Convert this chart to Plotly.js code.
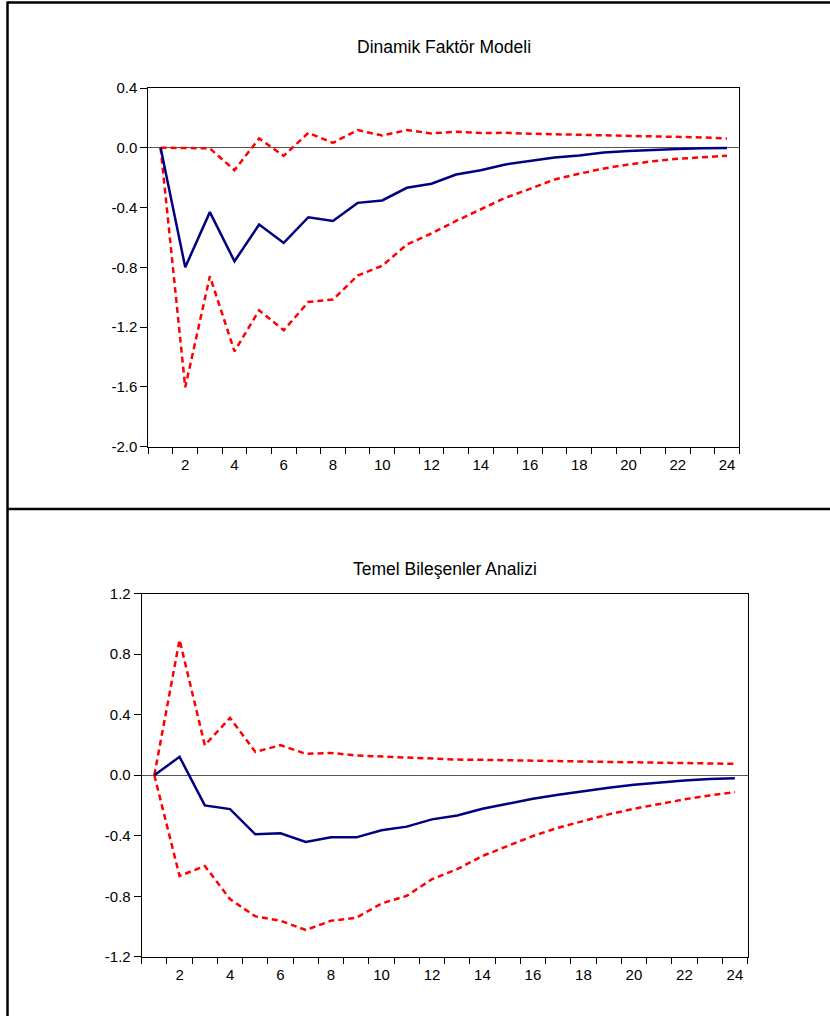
<!DOCTYPE html>
<html>
<head>
<meta charset="utf-8">
<script src="https://cdn.plot.ly/plotly-3.0.1.min.js"></script>
<style>html,body{margin:0;padding:0;background:#fff;}#chart{width:830px;height:1016px;}</style>
</head>
<body>
<div id="chart"></div>
<script>
// Horizon periods
const periods = [1,2,3,4,5,6,7,8,9,10,11,12,13,14,15,16,17,18,19,20,21,22,23,24];

// Panel titles
const titleTop = "Dinamik Faktör Modeli";
const titleBottom = "Temel Bileşenler Analizi";

// Dinamik Faktör Modeli: response and +/- 2 S.E. bands
const dfmResponse = [0, -0.80, -0.431, -0.76, -0.514, -0.637, -0.465, -0.49, -0.369, -0.353, -0.268, -0.241, -0.179, -0.150, -0.112, -0.090, -0.065, -0.052, -0.032, -0.022, -0.014, -0.008, -0.004, -0.002];
const dfmUpper = [0, -0.002, -0.004, -0.15, 0.062, -0.054, 0.10, 0.033, 0.118, 0.082, 0.118, 0.096, 0.107, 0.098, 0.10, 0.094, 0.091, 0.089, 0.085, 0.082, 0.078, 0.074, 0.069, 0.062];
const dfmLower = [0, -1.604, -0.860, -1.363, -1.088, -1.222, -1.032, -1.016, -0.856, -0.79, -0.648, -0.574, -0.49, -0.413, -0.335, -0.275, -0.212, -0.174, -0.139, -0.112, -0.090, -0.074, -0.063, -0.054];

// Temel Bileşenler Analizi: response and bands
const pcaResponse = [0, 0.121, -0.20, -0.224, -0.391, -0.384, -0.441, -0.411, -0.411, -0.364, -0.340, -0.292, -0.266, -0.222, -0.189, -0.156, -0.130, -0.105, -0.083, -0.063, -0.048, -0.035, -0.026, -0.020];
const pcaUpper = [0, 0.894, 0.198, 0.378, 0.154, 0.198, 0.141, 0.147, 0.130, 0.123, 0.117, 0.110, 0.103, 0.101, 0.097, 0.095, 0.093, 0.090, 0.088, 0.086, 0.084, 0.081, 0.079, 0.075];
const pcaLower = [0, -0.666, -0.60, -0.819, -0.933, -0.962, -1.023, -0.962, -0.942, -0.848, -0.797, -0.687, -0.621, -0.534, -0.468, -0.402, -0.347, -0.303, -0.259, -0.222, -0.189, -0.160, -0.134, -0.112];

// Tick labels
const xTickVals = [2,4,6,8,10,12,14,16,18,20,22,24];
const xTickText = ["2","4","6","8","10","12","14","16","18","20","22","24"];
const yTopVals = [-2.0,-1.6,-1.2,-0.8,-0.4,0.0,0.4];
const yTopText = ["-2.0","-1.6","-1.2","-0.8","-0.4","0.0","0.4"];
const yBotVals = [-1.2,-0.8,-0.4,0.0,0.4,0.8,1.2];
const yBotText = ["-1.2","-0.8","-0.4","0.0","0.4","0.8","1.2"];

const W = 830, H = 1016;
const px = v => v / W;
const py = v => 1 - v / H;

const FONT = "Liberation Sans, Arial, sans-serif";
const navy = "#000080", red = "#ff0000";
const solid = {color: navy, width: 2.5};
const dashed = {color: red, width: 2.5, dash: "6px,4px"};

const traces = [
  {x: periods, y: dfmUpper, xaxis: "x", yaxis: "y", mode: "lines", line: dashed},
  {x: periods, y: dfmLower, xaxis: "x", yaxis: "y", mode: "lines", line: dashed},
  {x: periods, y: dfmResponse, xaxis: "x", yaxis: "y", mode: "lines", line: solid},
  {x: periods, y: pcaUpper, xaxis: "x2", yaxis: "y2", mode: "lines", line: dashed},
  {x: periods, y: pcaLower, xaxis: "x2", yaxis: "y2", mode: "lines", line: dashed},
  {x: periods, y: pcaResponse, xaxis: "x2", yaxis: "y2", mode: "lines", line: solid}
];

function xAxis(domain, anchor) {
  return {
    domain: domain, anchor: anchor, range: [0.5, 24.5],
    tickmode: "array", tickvals: xTickVals, ticktext: xTickText,
    ticks: "", showgrid: false, zeroline: false,
    showline: true, linecolor: "#000", linewidth: 1, mirror: true,
    tickfont: {family: FONT, size: 15, color: "#000"},
    ticklabelstandoff: 4,
    minor: {tickmode: "linear", tick0: 0.5, dtick: 1, ticks: "outside", ticklen: 6, tickcolor: "#000", tickwidth: 1, showgrid: false}
  };
}
function yAxis(domain, anchor, range, vals, text) {
  return {
    domain: domain, anchor: anchor, range: range,
    tickmode: "array", tickvals: vals, ticktext: text,
    ticks: "outside", ticklen: 7, tickcolor: "#000", tickwidth: 1,
    showgrid: false, zeroline: true, zerolinecolor: "#555", zerolinewidth: 1,
    showline: true, linecolor: "#000", linewidth: 1, mirror: true,
    tickfont: {family: FONT, size: 15, color: "#000"}
  };
}

const layout = {
  width: W, height: H,
  margin: {l: 0, r: 0, t: 0, b: 0, pad: 0},
  paper_bgcolor: "#fff", plot_bgcolor: "#fff",
  showlegend: false,
  xaxis: xAxis([px(148.3), px(739.3)], "y"),
  yaxis: yAxis([py(446.5), py(88)], "x", [-2.0, 0.4], yTopVals, yTopText),
  xaxis2: xAxis([px(141.7), px(747.5)], "y2"),
  yaxis2: yAxis([py(956.8), py(593.5)], "x2", [-1.2, 1.2], yBotVals, yBotText),
  annotations: [
    {text: titleTop, xref: "paper", yref: "paper", x: px(444), y: py(47), showarrow: false,
     xanchor: "center", yanchor: "middle", font: {family: FONT, size: 17.5, color: "#000"}},
    {text: titleBottom, xref: "paper", yref: "paper", x: px(444.6), y: py(569), showarrow: false,
     xanchor: "center", yanchor: "middle", font: {family: FONT, size: 17.5, color: "#000"}}
  ],
  shapes: [
    {type: "line", xref: "paper", yref: "paper", x0: px(7.5), x1: 1, y0: py(2.5), y1: py(2.5), line: {color: "#000", width: 2.5}},
    {type: "line", xref: "paper", yref: "paper", x0: px(7.5), x1: 1, y0: py(509), y1: py(509), line: {color: "#000", width: 2.5}},
    {type: "line", xref: "paper", yref: "paper", x0: px(7.5), x1: px(7.5), y0: 0, y1: py(1.5), line: {color: "#000", width: 2.5}}
  ]
};

Plotly.newPlot("chart", traces, layout, {displayModeBar: false, staticPlot: true});
</script>
</body>
</html>
